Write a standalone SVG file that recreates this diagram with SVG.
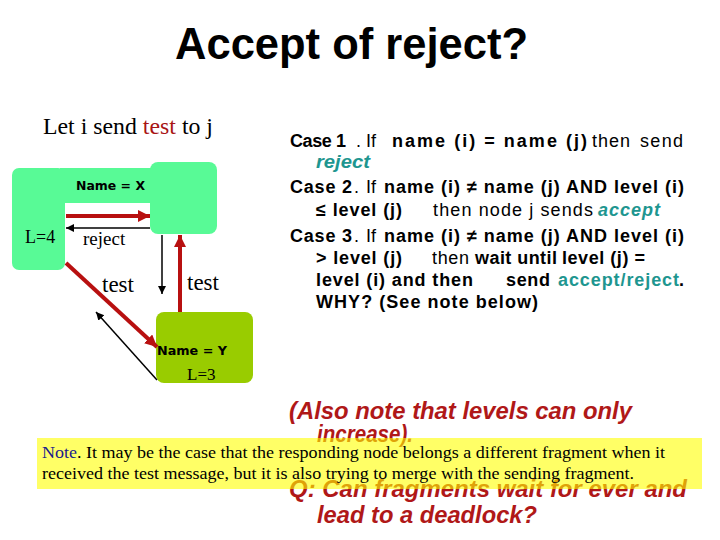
<svg xmlns="http://www.w3.org/2000/svg" width="720" height="540" viewBox="0 0 720 540">
<defs>
<style>
.green{fill:#58FA96}
.lime{fill:#99CC00}
.nm{font-family:"DejaVu Sans",sans-serif;font-weight:bold;font-size:12px;fill:#000}
.ser{font-family:"Liberation Serif",serif;fill:#000}
.red{stroke:#B81010;stroke-width:4;fill:none}
.blk{stroke:#000;stroke-width:1.5;fill:none}
.case{font-family:"Liberation Sans",Arial,sans-serif;font-size:18px;font-weight:bold;fill:#000}
.n{font-weight:normal}
.teal{fill:#1E9690}
.q{font-family:"Liberation Sans",Arial,sans-serif;font-size:23px;font-weight:bold;font-style:italic;fill:#B01818}
</style>
<marker id="ar" markerUnits="userSpaceOnUse" markerWidth="14" markerHeight="14" refX="12" refY="6" orient="auto">
<path d="M0,0 L12,6 L0,12 Z" fill="#B81010"/>
</marker>
<marker id="ab" markerUnits="userSpaceOnUse" markerWidth="10" markerHeight="10" refX="8" refY="4" orient="auto">
<path d="M0,0 L8,4 L0,8 Z" fill="#000"/>
</marker>
</defs>
<rect width="720" height="540" fill="#fff"/>

<text x="351.5" y="59" text-anchor="middle" font-family="Liberation Sans, Arial, sans-serif" font-size="43.5" font-weight="bold">Accept of reject?</text>

<text class="ser" x="43" y="134" font-size="22.5" textLength="170" lengthAdjust="spacingAndGlyphs">Let i send <tspan fill="#A81414">test</tspan> to j</text>

<g id="fragment-x">
<rect class="green" x="60" y="168" width="95" height="35"/>
</g>
<g id="node-i">
<rect class="green" x="12" y="168" width="53" height="102" rx="7"/>
<text class="ser" x="25" y="243" font-size="18">L=4</text>
</g>
<g id="node-j">
<rect class="green" x="150" y="162" width="67" height="72" rx="8"/>
</g>
<text class="nm" x="76" y="190" textLength="69" lengthAdjust="spacingAndGlyphs">Name = X</text>
<g id="node-y">
<rect class="lime" x="156" y="312" width="97" height="71" rx="8"/>
<text class="nm" x="157" y="355" textLength="70" lengthAdjust="spacingAndGlyphs">Name = Y</text>
<text class="ser" x="187" y="380" font-size="17">L=3</text>
</g>

<g id="connectors">
<line class="red" x1="66" y1="216" x2="150" y2="216" marker-end="url(#ar)"/>
<line class="blk" x1="150" y1="228" x2="66" y2="228" marker-end="url(#ab)"/>
<line class="red" x1="66" y1="263" x2="157" y2="347" marker-end="url(#ar)"/>
<line class="blk" x1="157" y1="380" x2="96" y2="312" marker-end="url(#ab)"/>
<line class="blk" x1="162" y1="235" x2="162" y2="294" marker-end="url(#ab)"/>
<line class="red" x1="180" y1="312" x2="180" y2="235" marker-end="url(#ar)"/>
</g>
<text class="ser" x="83" y="245" font-size="19">reject</text>
<text class="ser" x="102" y="292" font-size="23">test</text>
<text class="ser" x="187" y="290" font-size="23">test</text>

<g id="cases">
<text class="case" x="290" y="147" textLength="56" lengthAdjust="spacing">Case 1</text>
<text class="case n" x="356" y="147">.</text>
<text class="case n" x="366" y="147">If</text>
<text class="case" x="392" y="147" textLength="195" lengthAdjust="spacing">name (i) = name (j)</text>
<text class="case n" x="592" y="147" textLength="38" lengthAdjust="spacing">then</text>
<text class="case n" x="640" y="147" textLength="43" lengthAdjust="spacing">send</text>

<text class="case teal" x="316" y="168" font-style="italic" textLength="54" lengthAdjust="spacingAndGlyphs">reject</text>

<text class="case" x="290" y="193" textLength="62" lengthAdjust="spacing">Case 2</text>
<text class="case n" x="354" y="193">.</text>
<text class="case n" x="366" y="193">If</text>
<text class="case" x="384" y="193" textLength="300" lengthAdjust="spacing">name (i) ≠ name (j) AND level (i)</text>

<text class="case" x="316" y="216" textLength="86" lengthAdjust="spacing">≤ level (j)</text>
<text class="case n" x="433" y="216" textLength="160" lengthAdjust="spacing">then node j sends</text>
<text class="case teal" x="598" y="216" font-style="italic" textLength="62" lengthAdjust="spacing">accept</text>

<text class="case" x="290" y="242" textLength="62" lengthAdjust="spacing">Case 3</text>
<text class="case n" x="354" y="242">.</text>
<text class="case n" x="366" y="242">If</text>
<text class="case" x="384" y="242" textLength="300" lengthAdjust="spacing">name (i) ≠ name (j) AND level (i)</text>

<text class="case" x="316" y="264" textLength="86" lengthAdjust="spacing">&gt; level (j)</text>
<text class="case n" x="432" y="264" textLength="37" lengthAdjust="spacing">then</text>
<text class="case" x="475" y="264" fill="#B22222" textLength="82" lengthAdjust="spacing">wait until</text>
<text class="case" x="562" y="264" textLength="83" lengthAdjust="spacing">level (j) =</text>

<text class="case" x="316" y="286" textLength="157" lengthAdjust="spacing">level (i) and then</text>
<text class="case" x="506" y="286" textLength="44" lengthAdjust="spacing">send</text>
<text class="case teal" x="558" y="286" textLength="121" lengthAdjust="spacing">accept/reject</text>
<text class="case" x="679" y="286">.</text>

<text class="case" x="316" y="308" fill="#333399" textLength="222" lengthAdjust="spacing">WHY? (See note below)</text>
</g>

<text class="q" x="289" y="419" textLength="343" lengthAdjust="spacingAndGlyphs">(Also note that levels can only</text>
<text class="q" x="317" y="442" textLength="96" lengthAdjust="spacingAndGlyphs">increase).</text>
<text class="q" x="289" y="497" textLength="398" lengthAdjust="spacingAndGlyphs">Q: Can fragments wait for ever and</text>
<text class="q" x="317" y="523" textLength="220" lengthAdjust="spacingAndGlyphs">lead to a deadlock?</text>

<g id="note">
<rect x="37" y="438" width="665" height="51" fill="#FFFF00" fill-opacity="0.6"/>
<text class="ser" x="42" y="458" font-size="17" textLength="623" lengthAdjust="spacingAndGlyphs"><tspan fill="#1A1A8C">Note</tspan>. It may be the case that the responding node belongs a different fragment when it</text>
<text class="ser" x="42" y="479" font-size="17" textLength="592" lengthAdjust="spacingAndGlyphs">received the test message, but it is also trying to merge with the sending fragment.</text>
</g>
</svg>
